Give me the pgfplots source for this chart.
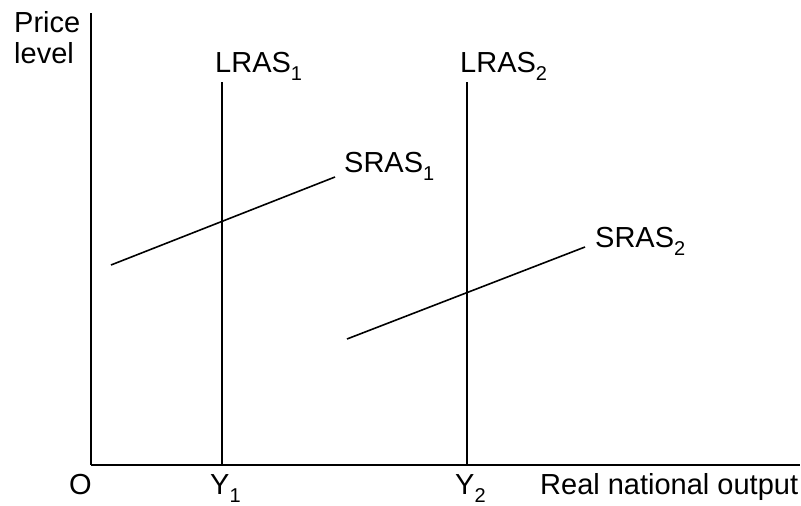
\documentclass[border=0pt]{standalone}
\usepackage{fontspec}
\setmainfont{Liberation Sans}
\usepackage{pgfplots}
\pgfplotsset{compat=1.18}

\newcommand\sub[1]{\raisebox{-0.27em}{\fontsize{20}{20}\selectfont #1}}

\begin{document}
\fontsize{29}{31}\selectfont
\begin{tikzpicture}[lbl/.style={font=\fontsize{29}{31}\selectfont, inner sep=0pt, anchor=base west}]
\begin{axis}[
    x=1pt, y=1pt,
    xmin=91, xmax=800,
    ymin=41, ymax=493,
    axis lines=left,
    axis line style={line width=2.2pt, -},
    xtick=\empty, ytick=\empty,
    clip=false,
]
    % LRAS curves
    \addplot[black, line width=1.6pt] coordinates {(222,41) (222,424)};
    \addplot[black, line width=1.6pt] coordinates {(467,41) (467,424)};
    % SRAS curves
    \addplot[black, line width=1.6pt] coordinates {(111,241) (335,329)};
    \addplot[black, line width=1.6pt] coordinates {(347,167) (585,259)};

    \node[lbl] at (axis cs:14,473) {Price};
    \node[lbl] at (axis cs:14,442) {level};
    \node[lbl] at (axis cs:215,433) {LRAS\sub{1}};
    \node[lbl] at (axis cs:460,433) {LRAS\sub{2}};
    \node[lbl] at (axis cs:344,333) {SRAS\sub{1}};
    \node[lbl] at (axis cs:595,258) {SRAS\sub{2}};
    \node[lbl] at (axis cs:69,11) {O};
    \node[lbl] at (axis cs:210,11) {Y\sub{1}};
    \node[lbl] at (axis cs:455,11) {Y\sub{2}};
    \node[lbl] at (axis cs:540,11) {Real national output};

    \coordinate (BL) at (axis cs:0,0);
    \coordinate (TR) at (axis cs:801,506);
\end{axis}
\pgfresetboundingbox
\path (BL) rectangle (TR);
\end{tikzpicture}
\end{document}
